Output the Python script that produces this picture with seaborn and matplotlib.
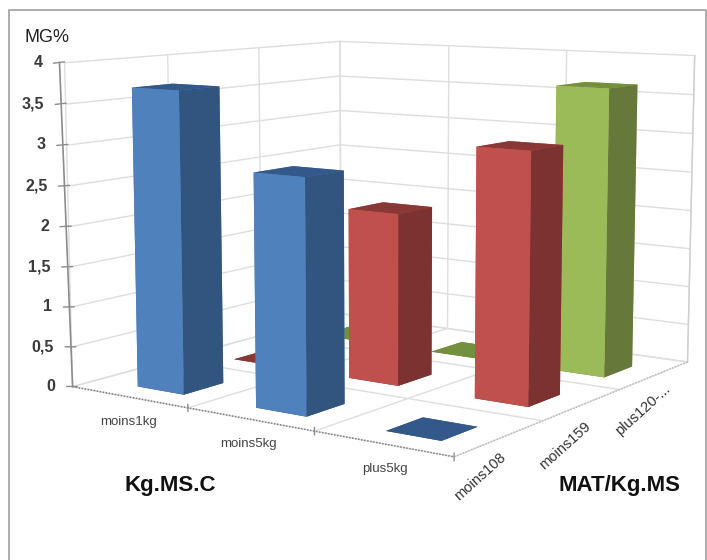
import matplotlib
matplotlib.use("Agg")
import matplotlib.pyplot as plt
import seaborn as sns
from matplotlib.lines import Line2D
from mpl_toolkits.mplot3d import proj3d

kg_labels = ["moins1kg", "moins5kg", "plus5kg"]
mat_labels = ["moins108", "moins159", "plus120-..."]
z_ticks = [0, 0.5, 1, 1.5, 2, 2.5, 3, 3.5, 4]
z_labels = ["0", "0,5", "1", "1,5", "2", "2,5", "3", "3,5", "4"]

# une liste par serie (profondeur)
mg_moins108 = [3.7, 2.8, 0]
mg_moins159 = [0, 2.15, 3.05]
mg_plus120 = [0, 0, 3.65]

face_colors = ["#4F81BD", "#C0504D", "#9BBB59"]
side_colors = ["#31557F", "#7B3230", "#66783A"]
top_colors = ["#33588A", "#8A3836", "#74903E"]

sns.set_theme(style="white")
plt.rcParams['font.family'] = ['Liberation Sans', 'DejaVu Sans']

W, H = 707, 560
fig = plt.figure(figsize=(W / 100, H / 100), dpi=100)

# cadre du graphique (pas de bord en bas, coupe par l'image)
frame_x = [9 / W, 9 / W, 706 / W, 706 / W]
frame_y = [0, 1 - 10 / H, 1 - 10 / H, 0]
fig.add_artist(Line2D(frame_x, frame_y, color="#A6A6A6", lw=1.3))

# vue ajustee sur les coins du graphique
ax = fig.add_axes([27.565 / W, 54.02 / H, 1, 1], projection="3d", proj_type="persp", focal_length=0.635)
ax.computed_zorder = False
ax.view_init(elev=8.47, azim=-55.097)
ax.set_box_aspect((1.405, 1.401, 1.0), zoom=1.226)
ax.set_xlim(0, 3)
ax.set_ylim(0, 3)
ax.set_zlim(0, 4)
ax.set_axis_off()
ax.patch.set_alpha(0)


def label_at(x, y, z, dx, dy, txt, **kw):
    xp, yp, _ = proj3d.proj_transform(x, y, z, ax.get_proj())
    ax.annotate(txt, xy=(xp, yp), xytext=(dx, dy), textcoords="offset pixels",
                ha=kw.pop("ha", "center"), va="center", annotation_clip=False, **kw)


# murs et sol
grid_c = "#DEDEDE"
line_kw = dict(color=grid_c, lw=1.0, zorder=1, clip_on=False)
for v in z_ticks:
    ax.plot([0, 3], [3, 3], [v, v], **line_kw)
    ax.plot([0, 0], [0, 3], [v, v], **line_kw)
for i in range(4):
    ax.plot([i, i], [3, 3], [0, 4], **line_kw)
    ax.plot([0, 0], [i, i], [0, 4], **line_kw)
    ax.plot([i, i], [0, 3], [0, 0], **line_kw)
    ax.plot([0, 3], [i, i], [0, 0], **line_kw)
ax.plot([3, 3], [3, 3], [0, 4], color="#CFCFCF", lw=1.0, zorder=1, clip_on=False)

# axes et graduations
axis_c = "#8C8C8C"
ax.plot([0, -0.045], [0, 0], [0, 4], color=axis_c, lw=1.2, zorder=2, clip_on=False)
ax.plot([0, 3], [0, 0], [0, 0], color="#7F7F7F", lw=1.1, ls=(0, (1, 1)), zorder=2, clip_on=False)
ax.plot([3, 3], [0, 3], [0, 0], color="#BDBDBD", lw=1.1, ls=(0, (1, 1)), zorder=2, clip_on=False)
for v, lab in zip(z_ticks, z_labels):
    x_ax = -0.045 * v / 4
    # petit decalage en z pour garder la graduation horizontale a l'ecran
    ax.plot([x_ax - 0.055, x_ax + 0.045], [0, 0], [v - 0.012, v + 0.012], color=axis_c, lw=1.0, zorder=2, clip_on=False)
    label_at(x_ax, 0, v, -17, 0, lab, ha="right", fontsize=11.5, fontweight="bold", color="#3A3A3A")
label_at(-0.045, 0, 4, -13, 25, "MG%", fontsize=13, color="#222222")
for i in range(1, 4):
    ax.plot([i, i], [0, 0], [-0.045, 0.045], color=axis_c, lw=1.0, zorder=2, clip_on=False)
for i, lab, dx in zip(range(3), kg_labels, [0, -1, 2]):
    label_at(i + 0.5, 0, 0, dx, -25, lab, fontsize=9.5, color="#444444")
for j, lab, off in zip(range(3), mat_labels, [(-20, -38), (-17, -41), (-12, -35)]):
    label_at(3, j + 0.5, 0, off[0], off[1], lab, fontsize=10.5, rotation=42, rotation_mode="anchor", color="#333333")

# barres, de l'arriere vers l'avant
series = [mg_moins108, mg_moins159, mg_plus120]
bar_w = 0.4
for j in [2, 1, 0]:
    for i in range(3):
        h = series[j][i]
        f, s, t = face_colors[j], side_colors[j], top_colors[j]
        # ordre des faces : bas, haut, avant, arriere, gauche, droite
        ax.bar3d(i + 0.35, j + 0.25, 0, bar_w, bar_w, h, shade=False, color=[s, t, f, f, f, s],
                 edgecolor="none", linewidth=0, zorder=10 + (2 - j) * 3 + i)

fig.text(124 / W, 1 - 486 / H, "Kg.MS.C", fontsize=16, fontweight="bold", color="#111111", va="center")
fig.text(558 / W, 1 - 486 / H, "MAT/Kg.MS", fontsize=16, fontweight="bold", color="#111111", va="center")

fig.savefig("out.png", dpi=100)
